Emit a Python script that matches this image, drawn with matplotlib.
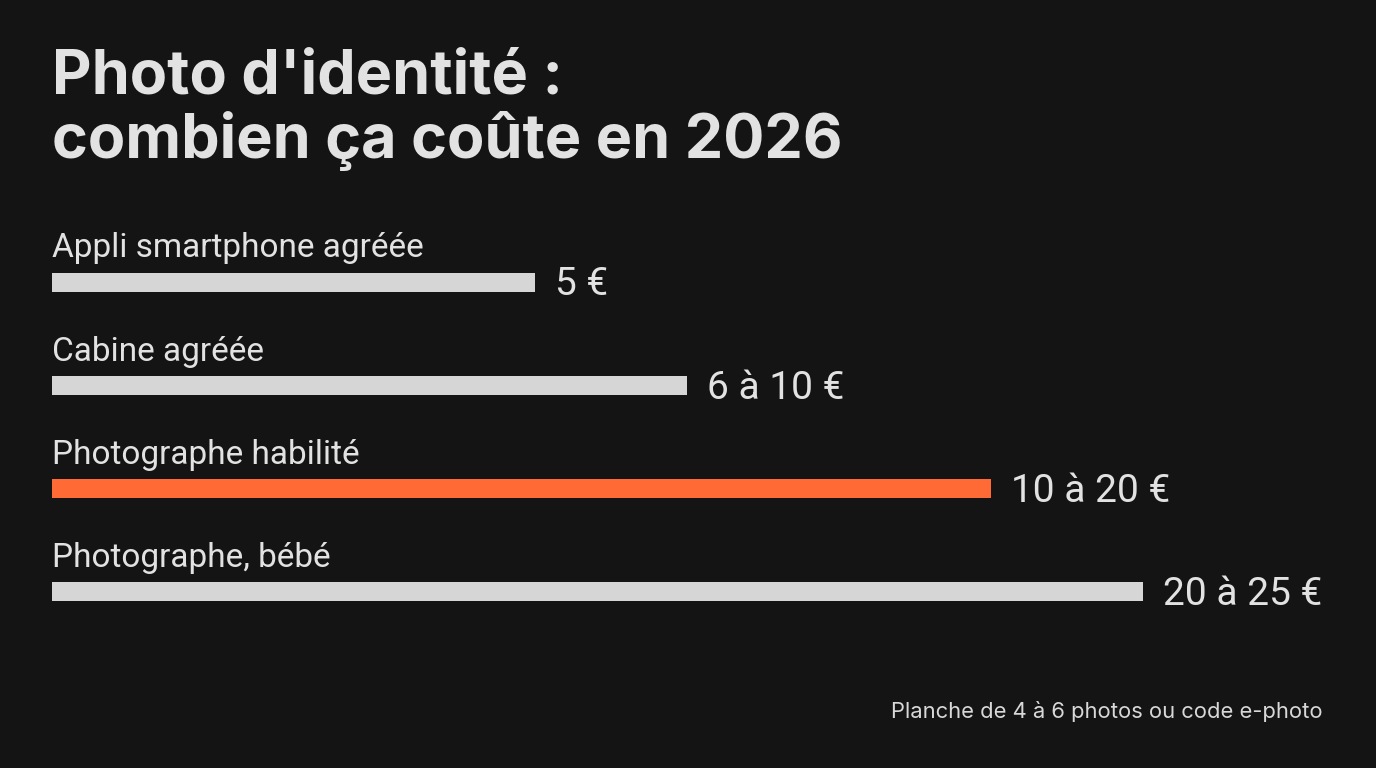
import matplotlib
matplotlib.use("Agg")
import matplotlib.pyplot as plt
import numpy as np

# ---- data ----
categories = ["Appli smartphone agréée", "Cabine agréée", "Photographe habilité", "Photographe, bébé"]
price_low = [5, 6, 10, 20]
price_high = [5, 10, 20, 25]
value_labels = ["5 €", "6 à 10 €", "10 à 20 €", "20 à 25 €"]
highlight = [False, False, True, False]
title_lines = ["Photo d'identité :", "combien ça coûte en 2026"]
footnote = "Planche de 4 à 6 photos ou code e-photo"

BG = "#141414"
BAR = "#d6d6d6"
ORANGE = "#ff6a35"
TXT = "#e2e2e2"

fig = plt.figure(figsize=(13.76, 7.68), dpi=100)
fig.patch.set_facecolor(BG)
ax = fig.add_axes([0, 0, 1, 1])
ax.set_facecolor(BG)

base = -10.89  # bar baseline in axis units
ax.set_xlim(-12.60, 32.66)
ax.set_ylim(4.709, -2.733)
ax.axis("off")

y = np.arange(len(categories))
widths = np.array(price_high) - base
colors = [ORANGE if h else BAR for h in highlight]
ax.barh(y, widths, left=base, height=0.184, color=colors, edgecolor="none")

for i, (cat, vl, hi) in enumerate(zip(categories, value_labels, price_high)):
    ax.text(base, i - 0.238, cat, fontsize=24, family="Roboto", color=TXT,
            ha="left", va="baseline")
    ax.annotate(vl, xy=(hi, i), xytext=(14, -2), textcoords="offset points",
                fontsize=28, family="Roboto", fontweight="normal", color=TXT,
                ha="left", va="center")

fig.text(52 / 1376, 1 - 93 / 768, title_lines[0], fontsize=44, family="Inter",
         fontweight="bold", color=TXT, ha="left", va="baseline")
fig.text(52 / 1376, 1 - 158 / 768, title_lines[1], fontsize=44, family="Inter",
         fontweight="bold", color=TXT, ha="left", va="baseline")

fig.text(1323 / 1376, 1 - 718 / 768, footnote, fontsize=15.8, family="Inter",
         color="#d8d8d8", ha="right", va="baseline")

fig.savefig("out.png", dpi=100, facecolor=BG)
